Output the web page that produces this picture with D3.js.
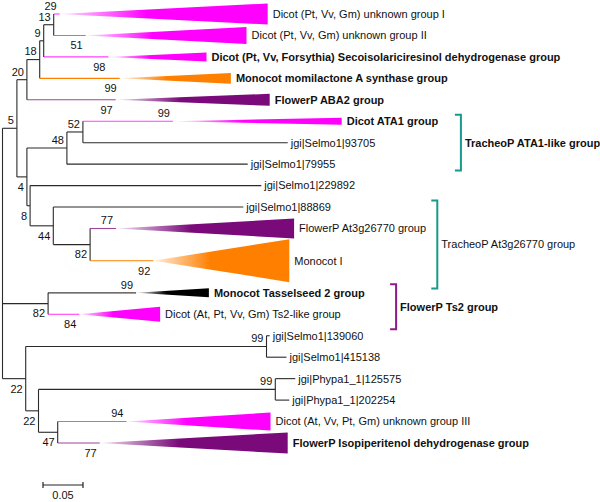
<!DOCTYPE html>
<html><head><meta charset="utf-8">
<script src="https://cdn.jsdelivr.net/npm/d3@7"></script>
<style>
body{margin:0;background:#fff}
svg{display:block}
text{font-family:"Liberation Sans",Arial,Helvetica,sans-serif;font-size:11px;fill:#111}
</style>
</head><body>
<svg id="chart" width="600" height="502"></svg>
<script>
// ---- tree topology (children listed top to bottom) ----
const nodeIds = ["root","n5","n20","n18","n9","n13","cI","cII","cSeco","cMomi","cABA2",
  "n4","n48","n52","cATA1","l93705","l79955","n8","l229892","n44","l88869","n82","cAt3g","cMonoI",
  "nTs2","cTs2","cTs2like","n22a","nSel","l139060","l415138","n22b","nPhy","l125575","l202254","n47","cIII","cIsop"];
const nodeParents = ["","root","n5","n20","n18","n9","n13","n13","n9","n18","n20",
  "n5","n4","n48","n52","n52","n48","n4","n8","n8","n44","n44","n82","n82",
  "root","nTs2","nTs2","root","n22a","nSel","nSel","n22a","n22b","nPhy","nPhy","n22b","n47","n47"];
// branch lengths (substitutions per site)
const branchLengths = [0,0.018,0.0125,0.016,0.005,0.0125,0.0075,0.04,0.081,0.1,0.111,
  0.0125,0.05,0.02,0.1125,0.256,0.226,0.004,0.289,0.029,0.2375,0.046,0.0325,0.079,
  0.057,0.11,0.039,0.029,0.301,0.004,0.025,0.016,0.296,0.025,0.0175,0.024,0.086,0.0525];
// bootstrap support (null = none)
const bootstrap = [null,5,20,18,9,13,29,51,98,99,97,
  4,48,52,99,null,null,8,null,44,null,82,77,92,
  82,99,84,22,99,null,null,22,99,null,null,47,94,77];
const supportSide = ["","up","up","up","up","up","up","down","down","down","down",
  "down","up","up","up","","","down","","down","","down","up","down",
  "down","up","down","down","up","","","down","up","","","down","up","down"];

// ---- single sequences ----
const leafIds = ["l93705","l79955","l229892","l88869","l139060","l415138","l125575","l202254"];
const leafLabels = ["jgi|Selmo1|93705","jgi|Selmo1|79955","jgi|Selmo1|229892","jgi|Selmo1|88869",
  "jgi|Selmo1|139060","jgi|Selmo1|415138","jgi|Phypa1_1|125575","jgi|Phypa1_1|202254"];

// ---- collapsed clades ----
const cladeIds = ["cI","cII","cSeco","cMomi","cABA2","cATA1","cAt3g","cMonoI","cTs2","cTs2like","cIII","cIsop"];
const cladeLabels = ["Dicot (Pt, Vv, Gm) unknown group I","Dicot (Pt, Vv, Gm) unknown group II",
  "Dicot (Pt, Vv, Forsythia) Secoisolariciresinol dehydrogenase group","Monocot momilactone A synthase group",
  "FlowerP ABA2 group","Dicot ATA1 group","FlowerP At3g26770 group","Monocot I",
  "Monocot Tasselseed 2 group","Dicot (At, Pt, Vv, Gm) Ts2-like group",
  "Dicot (At, Vv, Pt, Gm) unknown group III","FlowerP Isopiperitenol dehydrogenase group"];
const cladeBold = [false,false,true,true,true,true,false,false,true,false,false,true];
const cladeDepth = [0.26,0.201,0.1225,0.139,0.1925,0.211,0.2225,0.17,0.091,0.101,0.18,0.235];
const cladeSpread = [0.98,0.79,0.42,0.51,0.56,0.33,0.93,2.0,0.42,0.7,0.84,0.98];
const cladeSlots = [1,1,1,1,1,1,1,2,1,1,1,1];
const cladeGroup = ["dicot","dicot","dicot","monocot","flowerp","dicot","flowerp","monocot","ts2","dicot","dicot","flowerp"];

// ---- group brackets ----
const bracketLabels = ["TracheoP ATA1-like group","TracheoP At3g26770 group","FlowerP Ts2 group"];
const bracketFrom = [4.7, 8.7, 12.6];
const bracketTo = [7.3, 12.8, 14.7];
const bracketBold = [true,false,true];
const bracketGroup = ["tracheo","tracheo","ts2bracket"];

const scaleBarValue = 0.05;

// ---- styles ----
const colors = {dicot:"#ff00ff", monocot:"#ff8000", flowerp:"#7a0a7a", ts2:"#000000",
  tracheo:"#17998c", ts2bracket:"#8c1c8c"};

const svg = d3.select("#chart");
svg.append("rect").attr("width",600).attr("height",502).attr("fill","#fff");

const x = d3.scaleLinear().domain([0, 0.7]).range([2.5, 562.5]);
const y = d3.scaleLinear().domain([0, 20]).range([14, 443]);

const table = nodeIds.map((id,i)=>({id, parent: nodeParents[i] || null, len: branchLengths[i],
  boot: bootstrap[i], side: supportSide[i]}));
const root = d3.stratify().id(d=>d.id).parentId(d=>d.parent)(table);
root.eachBefore(n => { n.dist = n.parent ? n.parent.dist + n.data.len : 0; });

const cladeIndex = new Map(cladeIds.map((c,i)=>[c,i]));
let edge = -0.5;
root.leaves().forEach(l => {
  const ci = cladeIndex.get(l.id);
  const w = ci !== undefined ? cladeSlots[ci] : 1;
  l.slot = edge + w/2; edge += w;
});
root.eachAfter(n => {
  if (n.children) n.slot = (n.children[0].slot + n.children[n.children.length-1].slot)/2;
});

// gradients
const defs = svg.append("defs");
Object.entries(colors).forEach(([k,c]) => {
  const g = defs.append("linearGradient").attr("id","g_"+k).attr("x1",0).attr("x2",1).attr("y1",0).attr("y2",0);
  g.append("stop").attr("offset",0).attr("stop-color",c).attr("stop-opacity",0.12);
  g.append("stop").attr("offset",0.42).attr("stop-color",c).attr("stop-opacity",1);
  g.append("stop").attr("offset",1).attr("stop-color",c).attr("stop-opacity",1);
});

const gTree = svg.append("g");
// vertical connectors
root.descendants().filter(n=>n.children).forEach(n => {
  gTree.append("line")
    .attr("x1",x(n.dist)).attr("x2",x(n.dist))
    .attr("y1",y(n.children[0].slot)).attr("y2",y(n.children[n.children.length-1].slot))
    .attr("stroke","#2a2a2a").attr("stroke-width",1.1);
});
// horizontal branches
root.descendants().filter(n=>n.parent).forEach(n => {
  const ci = cladeIndex.get(n.id);
  const col = ci !== undefined ? colors[cladeGroup[ci]] : "#2a2a2a";
  gTree.append("line")
    .attr("x1",x(n.parent.dist)).attr("x2",x(n.dist))
    .attr("y1",y(n.slot)).attr("y2",y(n.slot))
    .attr("stroke",col).attr("stroke-width",1.1)
    .attr("stroke-opacity", ci !== undefined && cladeGroup[ci]!=="monocot" ? 0.75 : 1);
});
// triangles
const halfH = s => (y(s) - y(0))/2;
root.leaves().forEach(n => {
  const ci = cladeIndex.get(n.id);
  if (ci === undefined) return;
  const x0 = x(n.dist), x1 = x(n.dist + cladeDepth[ci]), yc = y(n.slot), h = halfH(cladeSpread[ci]);
  gTree.append("path")
    .attr("d", d3.line()([[x0,yc],[x1,yc-h],[x1,yc+h]]) + "Z")
    .attr("fill","url(#g_"+cladeGroup[ci]+")");
  gTree.append("text").attr("x",x1+5).attr("y",yc).attr("dy","0.35em")
    .attr("font-weight",cladeBold[ci]?"bold":"normal").text(cladeLabels[ci]);
});
// leaf labels
leafIds.forEach((id,i) => {
  const n = root.find(d=>d.id===id);
  gTree.append("text").attr("x",x(n.dist)+3).attr("y",y(n.slot)).attr("dy","0.35em").text(leafLabels[i]);
});
// bootstrap values
root.descendants().filter(n=>n.data.boot!=null).forEach(n => {
  const nx = n.children ? x(n.dist) : x(n.parent.dist + 0) ;
  const ax = n.children ? x(n.dist) : x(n.dist);
  gTree.append("text").attr("x",ax-3)
    .attr("y",y(n.slot) + (n.data.side==="up" ? -8 : 10)).attr("dy","0.35em")
    .attr("text-anchor","end").attr("fill","#222").text(n.data.boot);
});

// brackets
const bracketX = [x(0.573), x(0.5435), x(0.492)];
bracketLabels.forEach((lab,i) => {
  const bx = bracketX[i], y0 = y(bracketFrom[i]), y1 = y(bracketTo[i]);
  const c = colors[bracketGroup[i]];
  svg.append("path").attr("d",`M${bx-6},${y0}H${bx}V${y1}H${bx-6}`)
    .attr("fill","none").attr("stroke",c).attr("stroke-width",2);
  svg.append("text").attr("x",bx+4).attr("y",(y0+y1)/2).attr("dy","0.35em")
    .attr("font-weight",bracketBold[i]?"bold":"normal").text(lab);
});

// scale bar
const sb0 = 43, sb1 = sb0 + x(scaleBarValue) - x(0), sby = 485;
const sb = svg.append("g").attr("stroke","#222").attr("stroke-width",1.2);
sb.append("line").attr("x1",sb0).attr("x2",sb1).attr("y1",sby).attr("y2",sby);
sb.append("line").attr("x1",sb0).attr("x2",sb0).attr("y1",sby-3).attr("y2",sby+3);
sb.append("line").attr("x1",sb1).attr("x2",sb1).attr("y1",sby-3).attr("y2",sby+3);
svg.append("text").attr("x",(sb0+sb1)/2).attr("y",sby+10).attr("dy","0.35em")
  .attr("text-anchor","middle").text(scaleBarValue.toFixed(2));
</script>
</body></html>
